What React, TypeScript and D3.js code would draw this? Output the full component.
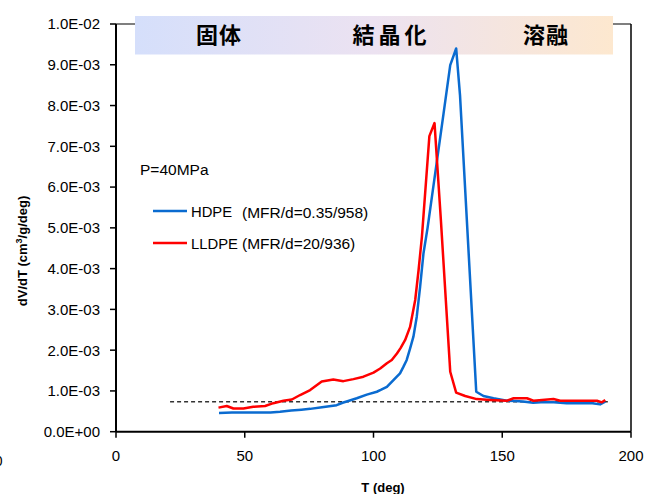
import React from 'react';
import * as d3 from 'd3';

// temperatures (deg) and dV/dT values
const hdpeT = [40, 45, 50, 55, 60, 63.7, 68, 72, 75.4, 80, 85.7, 88, 90.5, 93.5, 97.4, 101.3, 103, 105.2, 108.4, 110.3, 111.6, 112.9, 114.2, 115.5, 116.8, 118.1, 119.4, 121, 127.2, 129.8, 132.1, 133.6, 139.9, 142.7, 146.6, 151.8, 155, 158, 162, 165, 170, 175, 180, 185, 188, 190];
const hdpeV = [0.46, 0.47, 0.47, 0.47, 0.47, 0.49, 0.52, 0.54, 0.56, 0.6, 0.65, 0.71, 0.76, 0.82, 0.91, 0.98, 1.03, 1.1, 1.31, 1.43, 1.59, 1.76, 2.04, 2.33, 2.82, 3.55, 4.37, 5.0, 7.8, 8.99, 9.4, 8.25, 0.98, 0.875, 0.82, 0.76, 0.75, 0.74, 0.71, 0.72, 0.72, 0.7, 0.7, 0.7, 0.67, 0.735];

const lldpeT = [39.8, 43, 45.6, 49.5, 53.3, 57.9, 61.1, 65, 68.3, 71.5, 75.4, 79.9, 84.4, 88.3, 92.2, 96.1, 100, 102.6, 105.2, 107.1, 109.1, 110.5, 112.3, 114.2, 116.2, 117.5, 118.8, 121.7, 123.7, 126.2, 129.8, 132.1, 135.6, 140.1, 145.3, 151.8, 154.4, 159.6, 162.1, 169.9, 172.5, 186.8, 188.7, 190];
const lldpeV = [0.59, 0.63, 0.57, 0.57, 0.61, 0.63, 0.7, 0.76, 0.79, 0.9, 1.02, 1.23, 1.28, 1.24, 1.29, 1.35, 1.45, 1.55, 1.68, 1.76, 1.92, 2.05, 2.25, 2.57, 3.23, 3.96, 4.78, 7.25, 7.57, 5.16, 1.47, 0.96, 0.875, 0.8, 0.78, 0.76, 0.82, 0.82, 0.76, 0.8, 0.76, 0.76, 0.72, 0.78];

const baseLevel = 0.735; // dashed baseline, x1e-3
const baseRange = [21, 191];

const xTicks = [0, 50, 100, 150, 200];
const yTicks = [0, 1, 2, 3, 4, 5, 6, 7, 8, 9, 10];
const yTickLabels = ['0.0E+00', '1.0E-03', '2.0E-03', '3.0E-03', '4.0E-03', '5.0E-03', '6.0E-03', '7.0E-03', '8.0E-03', '9.0E-03', '1.0E-02'];

const phaseLabels = ['固体', '結晶化', '溶融'];
const phaseAt = [40, 107, 167];

const seriesNames = ['HDPE', 'LLDPE'];
const seriesNotes = ['(MFR/d=0.35/958)', '(MFR/d=20/936)'];
const seriesColors = ['#0a6bd0', '#ff0000'];

const W = 651;
const H = 494;
const latin = '"Liberation Sans", Arial, sans-serif';
const cjk = '"Noto Sans CJK JP", sans-serif';

export default function App() {
  const x = d3.scaleLinear().domain([0, 200]).range([116, 631]);
  const y = d3.scaleLinear().domain([0, 10]).range([431.7, 24]);

  const line = d3.line<[number, number]>()
    .x(d => x(d[0]))
    .y(d => y(d[1]));

  const series = [
    d3.zip(hdpeT, hdpeV) as [number, number][],
    d3.zip(lldpeT, lldpeV) as [number, number][],
  ];

  const [x0, x1] = x.range();
  const [yb, yt] = y.range();

  return (
    <svg width={W} height={H} style={{ position: 'absolute', left: 0, top: 0, background: '#fff' }}>
      <defs>
        <linearGradient id="band" x1="0" x2="1" y1="0" y2="0">
          <stop offset="0" stopColor="#d5dffb" />
          <stop offset="0.5" stopColor="#ece2f1" />
          <stop offset="1" stopColor="#fde8cf" />
        </linearGradient>
      </defs>

      {/* frame */}
      <line x1={x0} x2={x1} y1={yt} y2={yt} stroke="#000" strokeWidth={1.2} />
      <line x1={x1} x2={x1} y1={yt} y2={yb} stroke="#000" strokeWidth={1.5} />

      {/* phase band */}
      <rect x={135} y={16} width={478} height={38.5} fill="url(#band)" />
      {phaseLabels.map((t, i) => (
        <text key={t} x={x(phaseAt[i])} y={43} textAnchor="middle" fontFamily={cjk}
          fontWeight="bold" fontSize={22} letterSpacing={i === 1 ? 4 : 1}>{t}</text>
      ))}

      {/* baseline */}
      <line x1={x(baseRange[0])} x2={x(baseRange[1])} y1={y(baseLevel)} y2={y(baseLevel)}
        stroke="#333" strokeWidth={1.3} strokeDasharray="4,3" />

      {/* curves */}
      {series.map((s, i) => (
        <path key={i} d={line(s) || ''} fill="none" stroke={seriesColors[i]} strokeWidth={2.5} strokeLinejoin="round" />
      ))}

      {/* axes */}
      <line x1={x0} x2={x0} y1={yt} y2={yb} stroke="#000" strokeWidth={2} />
      <line x1={x0} x2={x1} y1={yb} y2={yb} stroke="#000" strokeWidth={2} />
      {yTicks.map((t, i) => (
        <g key={t}>
          <line x1={x0 - 6} x2={x0} y1={y(t)} y2={y(t)} stroke="#000" strokeWidth={1.5} />
          <text x={100} y={y(t)} dy="0.36em" textAnchor="end" fontFamily={latin} fontSize={15}>{yTickLabels[i]}</text>
        </g>
      ))}
      {xTicks.map(t => (
        <g key={t}>
          <line x1={x(t)} x2={x(t)} y1={yb} y2={yb + 6} stroke="#000" strokeWidth={1.5} />
          <text x={x(t)} y={461} textAnchor="middle" fontFamily={latin} fontSize={15}>{t}</text>
        </g>
      ))}

      <text x={383} y={492} textAnchor="middle" fontFamily={latin} fontWeight="bold" fontSize={13}>T (deg)</text>
      <text transform="translate(27,251) rotate(-90)" textAnchor="middle" fontFamily={latin} fontWeight="bold" fontSize={13}>
        dV/dT (cm<tspan dy={-5} fontSize={9}>3</tspan><tspan dy={5}>/g/deg)</tspan>
      </text>
      <text x={2.5} y={466} textAnchor="end" fontFamily={latin} fontSize={14}>0</text>

      {/* legend */}
      <text x={140} y={175} fontFamily={latin} fontSize={15.5}>P=40MPa</text>
      {seriesNames.map((n, i) => (
        <g key={n} transform={`translate(0,${211 + i * 32})`}>
          <line x1={153} x2={187} y1={0} y2={0} stroke={seriesColors[i]} strokeWidth={2.5} />
          <text x={191} y={5.5} fontFamily={latin} fontSize={14.8}>{n}</text>
          <text x={242} y={i === 0 ? 7 : 5.5} fontFamily={latin} fontSize={15.5}>{seriesNotes[i]}</text>
        </g>
      ))}
    </svg>
  );
}
